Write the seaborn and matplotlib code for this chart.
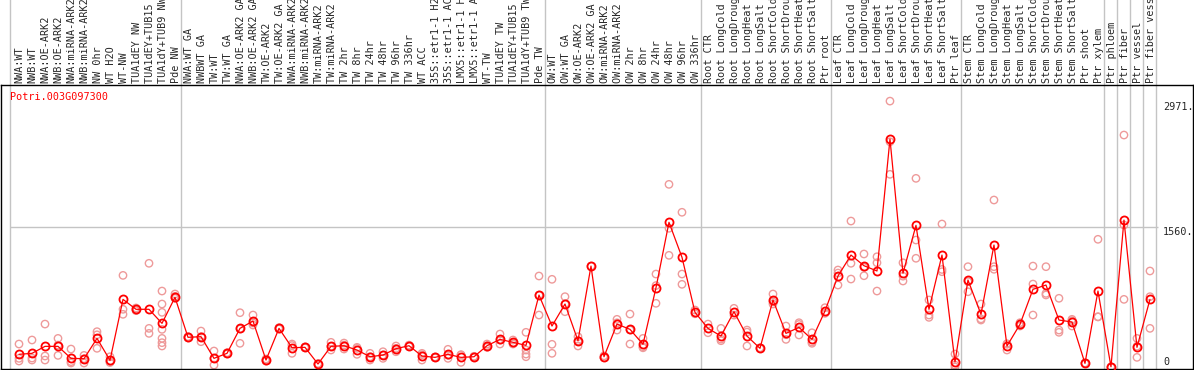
import pandas as pd
import seaborn as sns
import matplotlib.pyplot as plt
from matplotlib.transforms import blended_transform_factory

gene = 'Potri.003G097300'

samples = [
    'NWA:WT', 'NWB:WT', 'NWA:OE-ARK2', 'NWB:OE-ARK2', 'NWA:miRNA-ARK2', 'NWB:miRNA-ARK2',
    'NW 0hr', 'WT H2O', 'WT-NW', 'TUA1dEY NW', 'TUA1dEY+TUB15 NW', 'TUA1dY+TUB9 NW', 'Pde NW',
    'NWA:WT GA', 'NWBWT GA', 'TW:WT', 'TW:WT GA', 'NWA:OE-ARK2 GA', 'NWB:OE-ARK2 GA',
    'TW:OE-ARK2', 'TW:OE-ARK2 GA', 'NWA:miRNA-ARK2 GA', 'NWB:miRNA-ARK2 GA', 'TW:miRNA-ARK2',
    'TW:miRNA-ARK2 GA', 'TW 2hr', 'TW 8hr', 'TW 24hr', 'TW 48hr', 'TW 96hr', 'TW 336hr',
    'WT ACC', '35S::etr1-1 H2O', '35S::etr1-1 ACC', 'LMX5::etr1-1 H2O', 'LMX5::etr1-1 ACC',
    'WT-TW', 'TUA1dEY TW', 'TUA1dEY+TUB15 TW', 'TUA1dY+TUB9 TW', 'Pde TW',
    'OW:WT', 'OW:WT GA', 'OW:OE-ARK2', 'OW:OE-ARK2 GA', 'OW:miRNA-ARK2', 'OW:miRNA-ARK2 GA',
    'OW 2hr', 'OW 8hr', 'OW 24hr', 'OW 48hr', 'OW 96hr', 'OW 336hr',
    'Root CTR', 'Root LongCold', 'Root LongDrought', 'Root LongHeat', 'Root LongSalt',
    'Root ShortCold', 'Root ShortDrought', 'Root ShortHeat', 'Root ShortSalt', 'Ptr root',
    'Leaf CTR', 'Leaf LongCold', 'Leaf LongDrought', 'Leaf LongHeat', 'Leaf LongSalt',
    'Leaf ShortCold', 'Leaf ShortDrought', 'Leaf ShortHeat', 'Leaf ShortSalt', 'Ptr leaf',
    'Stem CTR', 'Stem LongCold', 'Stem LongDrought', 'Stem LongHeat', 'Stem LongSalt',
    'Stem ShortCold', 'Stem ShortDrought', 'Stem ShortHeat', 'Stem ShortSalt', 'Ptr shoot',
    'Ptr xylem', 'Ptr phloem', 'Ptr fiber', 'Ptr vessel', 'Ptr fiber vessel',
]

means = [
    142, 153, 231, 231, 97, 93, 320, 75, 756, 645, 645, 488, 779,
    332, 339, 97, 153, 432, 514, 78, 432, 216, 220, 34, 231, 238, 190, 115, 134, 205,
    238, 123, 108, 142, 108, 115, 238, 309, 276, 242, 804,
    458, 704, 294, 1128, 115, 480, 421, 254, 886, 1617, 1226, 611,
    432, 346, 618, 346, 209, 749, 376, 443, 309, 626,
    1017, 1251, 1132, 1073, 2547, 1047, 1583, 645, 1251, 56,
    972, 589, 1363, 235, 477, 868, 916, 525, 503, 41, 849,
    3, 1642, 220, 756,
]

reps = [
    [257, 97, 67], [302, 100, 78], [480, 123, 78], [320, 130, 245], [201, 60, 45],
    [130, 45, 93], [395, 209, 360], [115, 60, 50], [1024, 645, 589], [630, 660, 645],
    [432, 376, 1159], [849, 704, 611, 421, 320, 272, 235], [816, 790, 768],
    [340, 325, 332], [402, 283, 339], [179, 22, 97], [160, 146, 153], [607, 265, 425],
    [581, 469, 492], [90, 66, 78], [440, 425, 432], [257, 153, 240], [225, 215, 220],
    [30, 38, 34], [276, 190, 231], [201, 245, 268], [220, 142, 208], [153, 78, 115],
    [171, 97, 134], [235, 171, 209], [245, 232, 238], [153, 78, 138], [112, 104, 108],
    [198, 97, 131], [134, 52, 138], [120, 110, 115], [257, 220, 238], [369, 257, 301],
    [302, 257, 269], [388, 190, 145, 115], [1017, 581, 804],
    [980, 254, 153], [786, 618, 704], [339, 235, 294], [1128], [125, 105],
    [533, 413, 494], [592, 257, 414], [320, 227, 215], [1039, 712, 910],
    [2041, 1550, 1248], [1729, 1039, 924], [637, 595],
    [480, 383], [432, 294, 312], [656, 580], [413, 235, 390], [209, 215],
    [816, 704, 727], [458, 309, 361], [495, 358, 476], [383, 265, 279], [663, 600],
    [1084, 916, 1050], [1631, 1159, 983], [1263, 1020, 1113], [1232, 1165, 849],
    [2971, 2517, 2153], [1165, 961, 1015], [2108, 1419, 1215], [749, 581, 555],
    [1598, 1065, 1090], [145, 0, 22],
    [1121, 841, 954], [704, 525, 538], [1866, 1121, 1092], [190, 260, 255],
    [458, 495, 478], [1128, 927, 581], [1121, 823, 805], [768, 413, 388],
    [533, 458, 518], [41, 45], [1427, 562, 560],
    [3, 0], [2592, 1587, 756], [320, 108, 232], [1073, 786, 432],
]

group_breaks = [-0.7, 12.5, 40.5, 52.5, 62.5, 72.5, 83.5, 84.5, 85.5, 86.5, 87.5]
y_marks = ['2971.', '1560.', '0']
y_mark_pos = [2905, 1508, 56]

sns.set_style('white')
plt.rcParams['font.family'] = ['DejaVu Sans Mono']

fig = plt.figure(figsize=(11.94, 3.70), dpi=100)
ax = fig.add_axes([1 / 1194, 1 / 370, 1192 / 1194, 284 / 370])

df_reps = pd.DataFrame([(i, v) for i, r in enumerate(reps) for v in r],
                       columns=['sample', 'expr'])
df_means = pd.DataFrame({'sample': range(len(means)), 'expr': means})

# separators and the 1560 guide line
for b in group_breaks:
    ax.axvline(b, ymin=0, ymax=1.31, color='#c4c4c4', lw=1, clip_on=False, zorder=0)
ax.hlines(1560, -0.7, 87.6, color='#c4c4c4', lw=1, zorder=0)

sns.scatterplot(data=df_reps, x='sample', y='expr', s=28, marker='o',
                color='#ee9a9a', linewidth=1.0, ax=ax, zorder=2, legend=False)
ax.collections[-1].set_facecolor('none')
ax.collections[-1].set_edgecolor('#ee9a9a')

sns.lineplot(data=df_means, x='sample', y='expr', color='red', lw=0.9,
             marker='o', markersize=5.8, markerfacecolor='none',
             markeredgecolor='red', markeredgewidth=1.3, ax=ax, zorder=3)

ax.set_xlim(-1.385, 90.31)
ax.set_ylim(-22, 3151)
ax.set_xticks([])
ax.set_yticks([])
ax.set_xlabel('')
ax.set_ylabel('')
for s in ax.spines.values():
    s.set_color('black')
    s.set_linewidth(1)

# sample names above the plot
trans = blended_transform_factory(ax.transData, ax.transAxes)
for i, name in enumerate(samples):
    ax.text(i + 0.05, 1 + 2 / 284, name, rotation=90, ha='center', va='bottom',
            fontsize=7.3, transform=trans, clip_on=False)

for lab, pos in zip(y_marks, y_mark_pos):
    ax.text(88.0, pos, lab, ha='left', va='center', fontsize=7.3)

ax.text(-0.69, 3017, gene, color='red', ha='left', va='center', fontsize=7.3)

fig.savefig('out.png', dpi=100)
